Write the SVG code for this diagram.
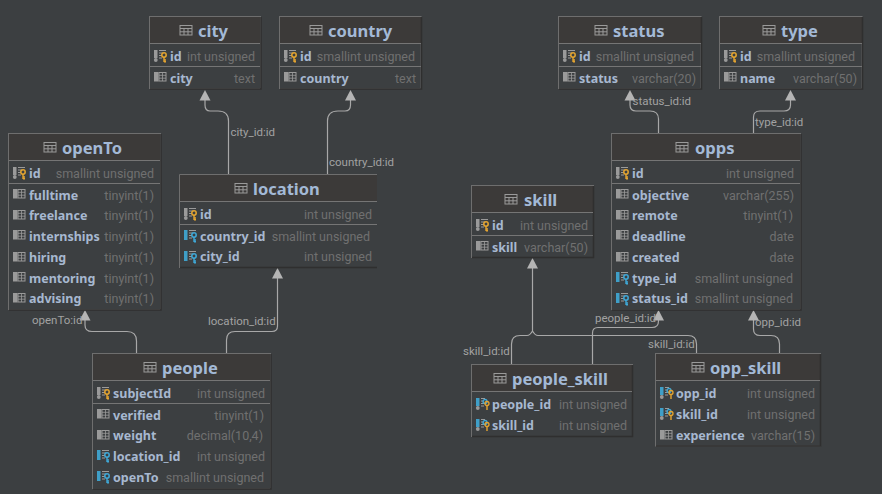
<svg xmlns="http://www.w3.org/2000/svg" width="882" height="494" viewBox="0 0 882 494">
<style>
.box{fill:#3c3f41;stroke:#6e6e6e;stroke-width:1}
.hd{fill:#3c3a39}
.sh{fill:none;stroke:#2f2f2f;stroke-width:1.5}
.dv{stroke:#757575;stroke-width:1}
.ttl{font:700 16.5px "Noto Sans","Open Sans",sans-serif;fill:#a3b9d6}
.n{font:700 12.5px "Noto Sans","Open Sans",sans-serif;fill:#a7b8d0}
.t{font:400 12.5px Roboto,"Noto Sans",sans-serif;fill:#707070;text-anchor:end}
.lb{font:400 11.5px Roboto,"Noto Sans",sans-serif;fill:#a2a2a2}
.ln{fill:none;stroke:#a8a8a8;stroke-width:1.2}
.ar{fill:#b4b4b4}
</style>
<defs>
<g id="tb"><rect x="0" y="0" width="12" height="9.5" fill="#3c3a39" stroke="#9a9a9a" stroke-width="1"/><path d="M0 3H12M0 6.3H12M4 3V9.500M8 3V9.500" stroke="#9a9a9a" stroke-width="1" fill="none"/></g>
<g id="col"><rect x="0" y="0" width="4.500" height="9.500" fill="#9a9a9a"/><rect x="5" y="0.5" width="7" height="8.500" fill="none" stroke="#9a9a9a"/><path d="M5 3.300H12M5 6.200H12M8.500 0.500V9" stroke="#9a9a9a" stroke-width=".8"/></g>
<g id="pkb"><rect x="0" y="0" width="3.5" height="8" fill="#9a9a9a"/><circle cx="1.800" cy="10" r="1.900" fill="#9a9a9a"/><path d="M5 .5H12M5 3H9M5 5.5H8M5 8H8" stroke="#9a9a9a" fill="none"/></g>
<g id="pk"><use href="#pkb"/><circle cx="10" cy="5" r="2.200" fill="none" stroke="#e5a530" stroke-width="1.500"/><path d="M10 7V12M10 10H12M10 11.800H12" stroke="#e5a530" stroke-width="1.400" fill="none"/></g>
<g id="fk"><rect x="0" y="0" width="3.500" height="10" fill="#3f9fc8"/><path d="M5 .5H12M5 3H9M5 5.5H8M5 8H8" stroke="#9a9a9a" fill="none"/><circle cx="10" cy="5" r="2.200" fill="none" stroke="#3fa9d8" stroke-width="1.500"/><path d="M10 7V12M10 10H12M10 11.800H12" stroke="#3fa9d8" stroke-width="1.400" fill="none"/></g>
<g id="pf"><rect x="0" y="0" width="3.500" height="8" fill="#3f9fc8"/><circle cx="1.800" cy="10" r="1.900" fill="#9a9a9a"/><path d="M5 .5H9M5 3H8M5 5.5H8M5 8H8" stroke="#9a9a9a" fill="none"/><circle cx="9" cy="3.500" r="2" fill="none" stroke="#3fa9d8" stroke-width="1.300"/><circle cx="11" cy="5.500" r="2" fill="none" stroke="#e5a530" stroke-width="1.300"/><path d="M11 7.500V12" stroke="#e5a530" stroke-width="1.400"/></g>
<path id="ah" d="M0 0L5.500 10.500H-5.500Z" class="ar"/>
</defs>
<rect width="882" height="494" fill="#3c3f41"/>

<g id="connectors">
<path class="ln" d="M228.500 174V121Q228.500 111 218 111H210Q205 111 205 105V98"/><use href="#ah" x="205" y="90"/>
<path class="ln" d="M327.500 174V121Q327.500 111 338 111H345Q350.500 111 350.500 105V98"/><use href="#ah" x="350.500" y="90"/>
<path class="ln" d="M658.500 133V119Q658.500 111 650 111H636Q630 111 630 105V98"/><use href="#ah" x="630" y="90"/>
<path class="ln" d="M753.500 133V117Q753.500 111 760 111H784Q790.500 111 790.500 105V98"/><use href="#ah" x="790.500" y="90"/>
<path class="ln" d="M136.500 353V341Q136.500 331.500 127 331.500H92Q85 331.500 85 325V318"/><use href="#ah" x="85" y="310"/>
<path class="ln" d="M226.500 353V340Q226.500 331.500 235 331.500H272Q277.500 331.500 277.500 326V276"/><use href="#ah" x="277.500" y="268"/>
<path class="ln" d="M511.500 364V344Q511.500 335.500 520 335.500H527Q530 335.500 532.500 331Q535 335.500 538 335.500H688Q696.500 335.500 696.500 344V353M532.500 331V266"/><use href="#ah" x="532.500" y="258"/>
<path class="ln" d="M592.500 364V333Q592.500 327.500 598 327.500H652Q658.500 327.500 658.500 321V318"/><use href="#ah" x="658.500" y="310"/>
<path class="ln" d="M779.500 353V344Q779.500 335.500 771 335.500H760Q753.500 335.500 753.500 329V318"/><use href="#ah" x="753.500" y="310"/>
<text class="lb" x="230.500" y="136">city_id:id</text>
<text class="lb" x="329" y="166">country_id:id</text>
<text class="lb" x="632.500" y="105">status_id:id</text>
<text class="lb" x="755" y="126">type_id:id</text>
<text class="lb" x="32" y="324">openTo:id</text>
<text class="lb" x="208" y="325">location_id:id</text>
<text class="lb" x="595" y="322">people_id:id</text>
<text class="lb" x="755" y="326">opp_id:id</text>
<text class="lb" x="463" y="355">skill_id:id</text>
<text class="lb" x="648" y="348">skill_id:id</text>
</g>

<g id="city">
<rect class="box" x="149.500" y="16.500" width="111" height="72"/><rect class="hd" x="150" y="17" width="110" height="26"/>
<path class="sh" d="M261 17V89H150"/><path class="dv" d="M150 43.500H260M150 66.500H260"/>
<use href="#tb" x="180" y="25.500"/><text class="ttl" x="198" y="37">city</text>
<use href="#pk" x="154" y="50"/><text class="n" x="170" y="61">id</text><text class="t" x="255" y="61">int unsigned</text>
<use href="#col" x="154" y="72"/><text class="n" x="170" y="83">city</text><text class="t" x="255" y="83">text</text>
</g>

<g id="country">
<rect class="box" x="279.500" y="16.500" width="141.500" height="72"/><rect class="hd" x="280" y="17" width="141" height="26"/>
<path class="sh" d="M421.500 17V89H280"/><path class="dv" d="M280 43.500H421M280 66.500H421"/>
<use href="#tb" x="310" y="25.500"/><text class="ttl" x="328" y="37">country</text>
<use href="#pk" x="284" y="50"/><text class="n" x="300" y="61">id</text><text class="t" x="415" y="61">smallint unsigned</text>
<use href="#col" x="284" y="72"/><text class="n" x="300" y="83">country</text><text class="t" x="416" y="83">text</text>
</g>

<g id="status">
<rect class="box" x="558.500" y="16.500" width="142.500" height="72"/><rect class="hd" x="559" y="17" width="142" height="26"/>
<path class="sh" d="M701.500 17V89H559"/><path class="dv" d="M559 43.500H701M559 66.500H701"/>
<use href="#tb" x="595" y="25.500"/><text class="ttl" x="613" y="37">status</text>
<use href="#pk" x="563" y="50"/><text class="n" x="579" y="61">id</text><text class="t" x="694" y="61">smallint unsigned</text>
<use href="#col" x="563" y="72"/><text class="n" x="579" y="83">status</text><text class="t" x="696" y="83">varchar(20)</text>
</g>

<g id="type">
<rect class="box" x="719.500" y="16.500" width="142.500" height="72"/><rect class="hd" x="720" y="17" width="142" height="26"/>
<path class="sh" d="M862.500 17V89H720"/><path class="dv" d="M720 43.500H862M720 66.500H862"/>
<use href="#tb" x="763" y="25.500"/><text class="ttl" x="781" y="37">type</text>
<use href="#pk" x="724" y="50"/><text class="n" x="740" y="61">id</text><text class="t" x="855" y="61">smallint unsigned</text>
<use href="#col" x="724" y="72"/><text class="n" x="740" y="83">name</text><text class="t" x="857" y="83">varchar(50)</text>
</g>

<g id="openTo">
<rect class="box" x="8.500" y="133.500" width="152" height="176"/><rect class="hd" x="9" y="134" width="151" height="26"/>
<path class="sh" d="M161 134V310H9"/><path class="dv" d="M9 160.500H160M9 183.500H160"/>
<use href="#tb" x="44" y="142.500"/><text class="ttl" x="62" y="154">openTo</text>
<use href="#pk" x="13" y="167"/><text class="n" x="29" y="178">id</text><text class="t" x="154" y="178">smallint unsigned</text>
<use href="#col" x="13" y="189"/><text class="n" x="29" y="200">fulltime</text><text class="t" x="154" y="200">tinyint(1)</text>
<use href="#col" x="13" y="210"/><text class="n" x="29" y="220">freelance</text><text class="t" x="154" y="220">tinyint(1)</text>
<use href="#col" x="13" y="230"/><text class="n" x="29" y="241">internships</text><text class="t" x="154" y="241">tinyint(1)</text>
<use href="#col" x="13" y="252"/><text class="n" x="29" y="262">hiring</text><text class="t" x="154" y="262">tinyint(1)</text>
<use href="#col" x="13" y="272"/><text class="n" x="29" y="283">mentoring</text><text class="t" x="154" y="283">tinyint(1)</text>
<use href="#col" x="13" y="293"/><text class="n" x="29" y="303">advising</text><text class="t" x="154" y="303">tinyint(1)</text>
</g>

<g id="location">
<rect class="hd" x="180" y="175" width="197" height="26"/>
<path d="M179.500 268V174.500H377" fill="none" stroke="#6e6e6e"/>
<path class="sh" d="M180 267.500H377"/><path class="dv" d="M180 201.500H377M180 224.500H377"/>
<use href="#tb" x="235" y="183.500"/><text class="ttl" x="253" y="195">location</text>
<use href="#pk" x="184" y="208"/><text class="n" x="200" y="219">id</text><text class="t" x="372" y="219">int unsigned</text>
<use href="#fk" x="184" y="230"/><text class="n" x="200" y="241">country_id</text><text class="t" x="370" y="241">smallint unsigned</text>
<use href="#fk" x="184" y="251"/><text class="n" x="200" y="261">city_id</text><text class="t" x="372" y="261">int unsigned</text>
</g>

<g id="people">
<rect class="box" x="92.500" y="353.500" width="178" height="135"/><rect class="hd" x="93" y="354" width="177" height="26"/>
<path class="sh" d="M271 354V489H93"/><path class="dv" d="M93 380.500H270M93 403.500H270"/>
<use href="#tb" x="144" y="362.500"/><text class="ttl" x="162" y="374">people</text>
<use href="#pk" x="97" y="387"/><text class="n" x="113" y="398">subjectId</text><text class="t" x="265" y="398">int unsigned</text>
<use href="#col" x="97" y="409"/><text class="n" x="113" y="420">verified</text><text class="t" x="264" y="420">tinyint(1)</text>
<use href="#col" x="97" y="430"/><text class="n" x="113" y="440">weight</text><text class="t" x="263" y="440">decimal(10,4)</text>
<use href="#fk" x="97" y="450"/><text class="n" x="113" y="461">location_id</text><text class="t" x="265" y="461">int unsigned</text>
<use href="#fk" x="97" y="471"/><text class="n" x="113" y="482">openTo</text><text class="t" x="264" y="482">smallint unsigned</text>
</g>

<g id="opps">
<rect class="box" x="611.500" y="133.500" width="189" height="176"/><rect class="hd" x="612" y="134" width="188" height="26"/>
<path class="sh" d="M801 134V310H612"/><path class="dv" d="M612 160.500H800M612 183.500H800"/>
<use href="#tb" x="676" y="142.500"/><text class="ttl" x="695" y="154">opps</text>
<use href="#pk" x="616" y="167"/><text class="n" x="632" y="178">id</text><text class="t" x="794" y="178">int unsigned</text>
<use href="#col" x="616" y="189"/><text class="n" x="632" y="200">objective</text><text class="t" x="794" y="200">varchar(255)</text>
<use href="#col" x="616" y="210"/><text class="n" x="632" y="220">remote</text><text class="t" x="793" y="220">tinyint(1)</text>
<use href="#col" x="616" y="230"/><text class="n" x="632" y="241">deadline</text><text class="t" x="794" y="241">date</text>
<use href="#col" x="616" y="252"/><text class="n" x="632" y="262">created</text><text class="t" x="794" y="262">date</text>
<use href="#fk" x="616" y="272"/><text class="n" x="632" y="283">type_id</text><text class="t" x="793" y="283">smallint unsigned</text>
<use href="#fk" x="616" y="293"/><text class="n" x="632" y="303">status_id</text><text class="t" x="793" y="303">smallint unsigned</text>
</g>

<g id="skill">
<rect class="box" x="471.500" y="185.500" width="122" height="72"/><rect class="hd" x="472" y="186" width="121" height="26"/>
<path class="sh" d="M593.500 186V257.500H472"/><path class="dv" d="M472 212.500H593M472 235.500H593"/>
<use href="#tb" x="505" y="194.500"/><text class="ttl" x="524" y="206">skill</text>
<use href="#pk" x="476" y="219"/><text class="n" x="492" y="230">id</text><text class="t" x="588" y="230">int unsigned</text>
<use href="#col" x="476" y="241"/><text class="n" x="492" y="252">skill</text><text class="t" x="588" y="252">varchar(50)</text>
</g>

<g id="people_skill">
<rect class="box" x="471.500" y="364.500" width="161" height="72"/><rect class="hd" x="472" y="365" width="160" height="26"/>
<path class="sh" d="M632.500 365V436.500H472"/><path class="dv" d="M472 391.500H632"/>
<use href="#tb" x="494" y="373.500"/><text class="ttl" x="512" y="385">people_skill</text>
<use href="#pf" x="476" y="398"/><text class="n" x="492" y="409">people_id</text><text class="t" x="627" y="409">int unsigned</text>
<use href="#pf" x="476" y="419"/><text class="n" x="492" y="430">skill_id</text><text class="t" x="627" y="430">int unsigned</text>
</g>

<g id="opp_skill">
<rect class="box" x="655.500" y="353.500" width="165" height="92.500"/><rect class="hd" x="656" y="354" width="164" height="26"/>
<path class="sh" d="M820.500 354V446H656"/><path class="dv" d="M656 380.500H820"/>
<use href="#tb" x="692" y="362.500"/><text class="ttl" x="710" y="374">opp_skill</text>
<use href="#pf" x="660" y="387"/><text class="n" x="676" y="398">opp_id</text><text class="t" x="815" y="398">int unsigned</text>
<use href="#pf" x="660" y="408"/><text class="n" x="676" y="419">skill_id</text><text class="t" x="815" y="419">int unsigned</text>
<use href="#col" x="660" y="430"/><text class="n" x="676" y="440">experience</text><text class="t" x="815" y="440">varchar(15)</text>
</g>
</svg>
